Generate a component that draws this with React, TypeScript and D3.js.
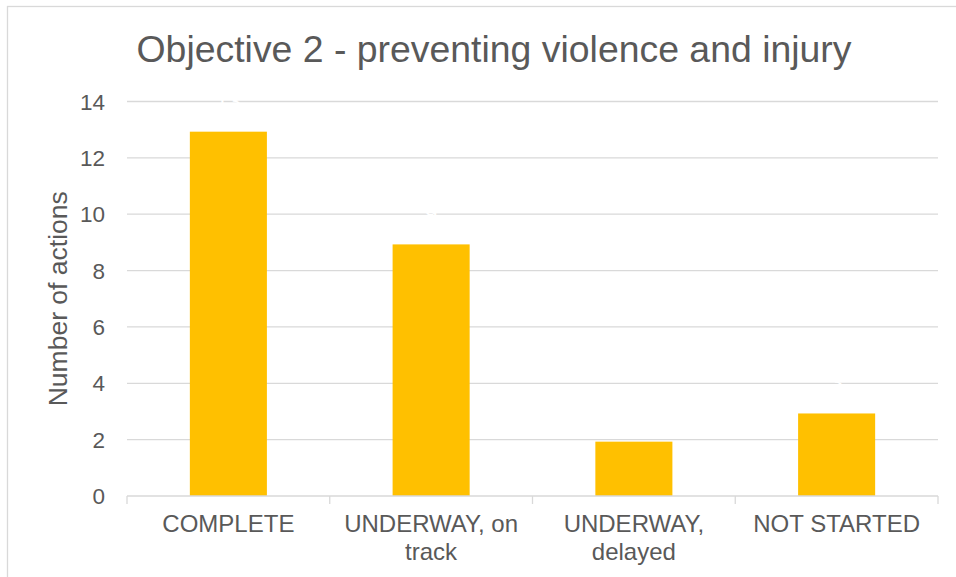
import React from "react";
import * as d3 from "d3";

const categories: string[][] = [["COMPLETE"], ["UNDERWAY, on", "track"], ["UNDERWAY,", "delayed"], ["NOT STARTED"]];
const categoryKeys = ["COMPLETE", "UNDERWAY, on track", "UNDERWAY, delayed", "NOT STARTED"];
const values = [13, 9, 2, 3];
const yTicks = [0, 2, 4, 6, 8, 10, 12, 14];
const title = "Objective 2 - preventing violence and injury";
const yTitle = "Number of actions";

const W = 956;
const H = 577;
const left = 127;
const right = 938;
const top = 101.5;
const bottom = 496;
const font = "'Liberation Sans', Arial, sans-serif";
const textColor = "#595959";
const gridColor = "#d9d9d9";
const barColor = "#FFC000";

export default function App() {
  const y = d3.scaleLinear().domain([0, 14]).range([bottom, top]);
  const x = d3.scaleBand<string>().domain(categoryKeys).range([left, right]).paddingInner(0.62).paddingOuter(0.31);
  const step = (right - left) / categoryKeys.length;
  const boundaries = d3.range(categoryKeys.length + 1).map((i) => left + i * step);
  const barInset = 2;

  return (
    <svg width={W} height={H} style={{ position: "absolute", left: 0, top: 0, background: "#fff" }} fontFamily={font}>
      <rect x={7.5} y={6.5} width={W + 20} height={H + 20} fill="#fff" stroke={gridColor} strokeWidth={1.3} />
      <text x={494} y={62} textAnchor="middle" fontSize={37.4} fill={textColor}>{title}</text>
      {yTicks.map((t) => (
        <g key={t}>
          {t > 0 && <line x1={left} x2={right} y1={y(t)} y2={y(t)} stroke={gridColor} strokeWidth={1.3} />}
          <text x={105} y={y(t) + 8} textAnchor="end" fontSize={22.5} fill={textColor}>{t}</text>
        </g>
      ))}
      {values.map((v, i) => (
        <rect key={i} x={x(categoryKeys[i])} y={y(v) + barInset} width={x.bandwidth()} height={y(0) - y(v) - barInset} fill={barColor} />
      ))}
      {values.map((v, i) => (
        <text key={"l" + i} x={(x(categoryKeys[i]) as number) + x.bandwidth() / 2} y={y(v) - 21} textAnchor="middle" fontSize={22.5} fill="#ffffff">{v}</text>
      ))}
      <line x1={left} x2={right} y1={bottom} y2={bottom} stroke={gridColor} strokeWidth={1.3} />
      {boundaries.map((b, i) => (
        <line key={i} x1={b} x2={b} y1={bottom} y2={bottom + 8} stroke={gridColor} strokeWidth={1.3} />
      ))}
      {categories.map((lines, i) => (
        <text key={i} textAnchor="middle" fontSize={24} fill={textColor}>
          {lines.map((ln, j) => (
            <tspan key={j} x={(x(categoryKeys[i]) as number) + x.bandwidth() / 2} y={532 + j * 28}>{ln}</tspan>
          ))}
        </text>
      ))}
      <text transform={`translate(67,${(top + bottom) / 2}) rotate(-90)`} textAnchor="middle" fontSize={26.5} fill={textColor}>{yTitle}</text>
    </svg>
  );
}
